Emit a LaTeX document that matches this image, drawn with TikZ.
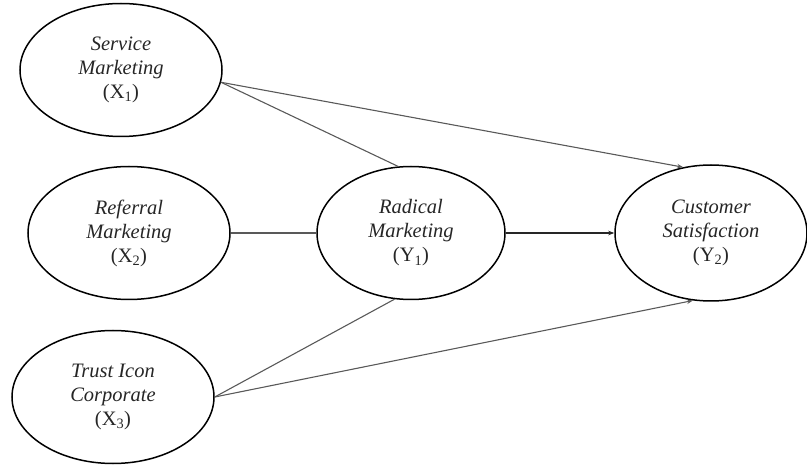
\documentclass[tikz,border=0pt]{standalone}
\usepackage{fontspec}
\setmainfont{Liberation Serif}
\usetikzlibrary{shapes.geometric,arrows.meta}

\tikzset{
  construct/.style={ellipse, draw=black, line width=1.5pt, inner sep=0pt,
    minimum width=#1, minimum height=133pt, align=center,
    font=\fontsize{20.5}{24}\selectfont, text=black!85},
  construct/.default=202pt,
  link/.style={draw=black!65, line width=1.1pt},
  arrowlink/.style={link, -{Stealth[length=6pt,width=4.5pt]}}
}

\begin{document}
\begin{tikzpicture}[x=1pt,y=-1pt]
  \useasboundingbox (0,0) rectangle (807,465);

  % exogenous constructs
  \node[construct] (X1) at (121,70)  {\textit{Service}\\\textit{Marketing}\\(X\textsubscript{1})};
  \node[construct] (X2) at (129,233) {\textit{Referral}\\\textit{Marketing}\\(X\textsubscript{2})};
  \node[construct] (X3) at (113,397) {\textit{Trust Icon}\\\textit{Corporate}\\(X\textsubscript{3})};

  % mediator and outcome
  \node[construct=188pt] (Y1) at (411,233) {\textit{Radical}\\\textit{Marketing}\\(Y\textsubscript{1})};
  \node[construct=192pt, minimum height=136pt] (Y2) at (711,233) {\textit{Customer}\\\textit{Satisfaction}\\(Y\textsubscript{2})};

  % paths
  \draw[arrowlink] (X1.-7) -- (Y2.113);
  \draw[link] (X1.-7) -- (Y1.101);
  \draw[link] (X2.east) -- (Y1.west);
  \draw[arrowlink, draw=black!85] (Y1.east) -- (Y2.west);
  \draw[link] (X3.east) -- (Y1.-104);
  \draw[arrowlink] (X3.east) -- (Y2.-105);
\end{tikzpicture}
\end{document}
